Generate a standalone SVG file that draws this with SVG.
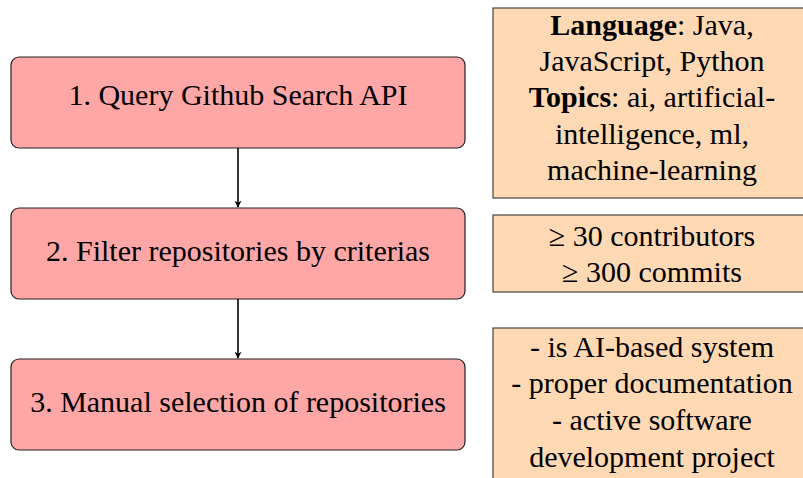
<svg xmlns="http://www.w3.org/2000/svg" width="803" height="478" viewBox="0 0 803 478">
<style>
.step{fill:#FFA6A6;stroke:#222;stroke-width:1.2}
.note{fill:#FFD9B3;stroke:#444;stroke-width:1.2}
.edge{stroke:#000;stroke-width:1.6;fill:none}
text{font-family:'Liberation Serif',serif;font-size:30px;text-anchor:middle;fill:#000}
</style>
<defs>
<marker id="arr" viewBox="0 0 10 10" refX="9" refY="5" markerWidth="7" markerHeight="7" orient="auto" markerUnits="userSpaceOnUse">
<path d="M0,0 L10,5 L0,10 L3,5 Z" fill="#000"/>
</marker>
</defs>
<g id="step1"><rect class="step" x="11" y="57" width="454" height="91" rx="8"/><text style="font-family:'Liberation Serif',serif" x="238" y="105">1. Query Github Search API</text></g>
<g id="step2"><rect class="step" x="11" y="208" width="454" height="91" rx="8"/><text style="font-family:'Liberation Serif',serif" x="238" y="261">2. Filter repositories by criterias</text></g>
<g id="step3"><rect class="step" x="11" y="359" width="454" height="91" rx="8"/><text style="font-family:'Liberation Serif',serif" x="238" y="412">3. Manual selection of repositories</text></g>
<g id="note1"><rect class="note" x="493" y="8" width="318" height="190"/>
<text style="font-family:'Liberation Serif',serif" x="652" y="35"><tspan font-weight="bold">Language</tspan>: Java,</text>
<text style="font-family:'Liberation Serif',serif" x="652" y="71">JavaScript, Python</text>
<text style="font-family:'Liberation Serif',serif" x="652" y="107"><tspan font-weight="bold">Topics</tspan>: ai, artificial-</text>
<text style="font-family:'Liberation Serif',serif" x="652" y="144">intelligence, ml,</text>
<text style="font-family:'Liberation Serif',serif" x="652" y="180">machine-learning</text></g>
<g id="note2"><rect class="note" x="493" y="215" width="318" height="77"/>
<text style="font-family:'Liberation Serif',serif" x="652" y="246">≥ 30 contributors</text>
<text style="font-family:'Liberation Serif',serif" x="652" y="282">≥ 300 commits</text></g>
<g id="note3"><rect class="note" x="493" y="328" width="318" height="160"/>
<text style="font-family:'Liberation Serif',serif" x="652" y="357">- is AI-based system</text>
<text style="font-family:'Liberation Serif',serif" x="652" y="393">- proper documentation</text>
<text style="font-family:'Liberation Serif',serif" x="652" y="430">- active software</text>
<text style="font-family:'Liberation Serif',serif" x="652" y="467">development project</text></g>
<g id="connectors">
<line class="edge" marker-end="url(#arr)" x1="238" y1="148" x2="238" y2="207"/>
<line class="edge" marker-end="url(#arr)" x1="238" y1="299" x2="238" y2="358"/>
</g>
</svg>
